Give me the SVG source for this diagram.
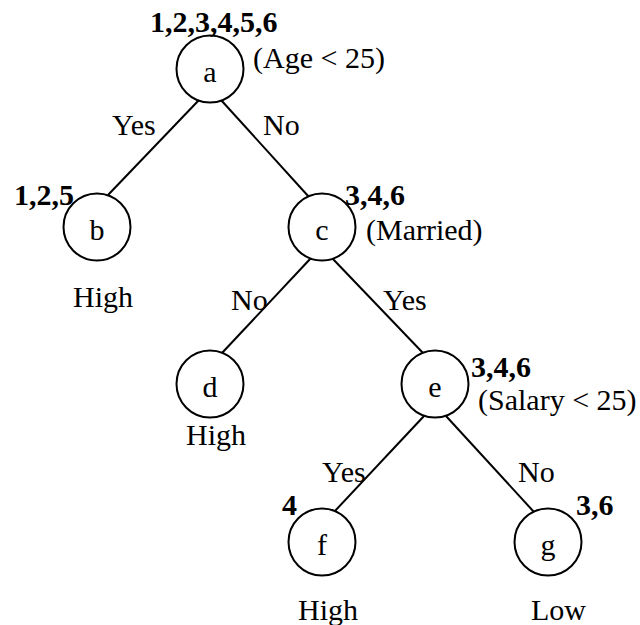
<svg xmlns="http://www.w3.org/2000/svg" width="640" height="625" viewBox="0 0 640 625">
  <style>
    text { font-family: "Liberation Serif", "Times New Roman", serif; font-size: 30px; fill: #000; }
    .lbl { text-anchor: middle; }
    .set { font-weight: bold; }
    circle { fill: #fff; stroke: #000; stroke-width: 2; }
    #edges line { stroke: #000; stroke-width: 2; }
  </style>

  <!-- branches of the tree -->
  <g id="edges">
    <line x1="199" y1="100" x2="108" y2="195"/>
    <line x1="221" y1="100" x2="309" y2="197"/>
    <line x1="311" y1="258" x2="222" y2="353"/>
    <line x1="332" y1="258" x2="423" y2="353"/>
    <line x1="424" y1="416" x2="334" y2="512"/>
    <line x1="446" y1="416" x2="534" y2="512"/>
    <text x="112" y="135">Yes</text>
    <text x="263" y="135">No</text>
    <text x="231" y="310">No</text>
    <text x="383" y="310">Yes</text>
    <text x="322" y="482">Yes</text>
    <text x="518" y="482">No</text>
  </g>

  <g id="node-a">
    <circle cx="210" cy="69" r="33.5"/>
    <text class="lbl" x="210" y="82">a</text>
    <text class="set" x="150" y="32">1,2,3,4,5,6</text>
    <text x="253" y="68">(Age &lt; 25)</text>
  </g>

  <g id="node-b">
    <circle cx="97" cy="227" r="33.5"/>
    <text class="lbl" x="97" y="240">b</text>
    <text class="set" x="14" y="205">1,2,5</text>
    <text x="73" y="307">High</text>
  </g>

  <g id="node-c">
    <circle cx="322" cy="227" r="33.5"/>
    <text class="lbl" x="322" y="240">c</text>
    <text class="set" x="345" y="205">3,4,6</text>
    <text x="366" y="240">(Married)</text>
  </g>

  <g id="node-d">
    <circle cx="210" cy="384" r="33.5"/>
    <text class="lbl" x="210" y="397">d</text>
    <text x="186" y="445">High</text>
  </g>

  <g id="node-e">
    <circle cx="435" cy="384" r="33.5"/>
    <text class="lbl" x="435" y="397">e</text>
    <text class="set" x="471" y="377">3,4,6</text>
    <text x="478" y="410">(Salary &lt; 25)</text>
  </g>

  <g id="node-f">
    <circle cx="322" cy="542" r="33.5"/>
    <text class="lbl" x="322" y="555">f</text>
    <text class="set" x="282" y="515">4</text>
    <text x="298" y="620">High</text>
  </g>

  <g id="node-g">
    <circle cx="548" cy="542" r="33.5"/>
    <text class="lbl" x="548" y="555">g</text>
    <text class="set" x="576" y="515">3,6</text>
    <text x="531" y="620">Low</text>
  </g>
</svg>
